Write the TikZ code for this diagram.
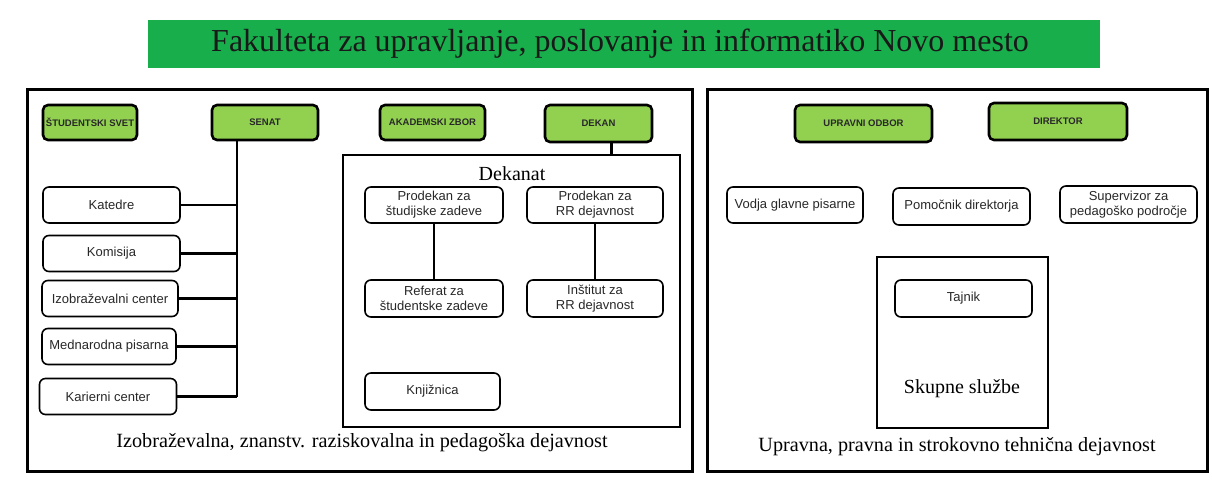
\documentclass[tikz,border=0pt]{standalone}
\usepackage{fontspec}
\setmainfont{Liberation Serif}
\setsansfont{Liberation Sans}
\newfontfamily\titlefont{Liberation Serif}
\definecolor{bannergreen}{RGB}{24,174,76}
\definecolor{lightgreen}{RGB}{146,208,80}
\definecolor{txtgray}{RGB}{40,40,40}
\begin{document}
\begin{tikzpicture}[x=1pt,y=-1pt,
  headbox/.style={draw=black,line width=2.6pt,rounded corners=5pt,fill=lightgreen,
     font=\sffamily\bfseries\fontsize{9.5}{11}\selectfont,text=txtgray,
     minimum height=35pt,inner sep=1pt},
  unitbox/.style={draw=black,line width=1.6pt,rounded corners=6pt,fill=white,
     font=\sffamily\fontsize{13}{15}\selectfont,text=txtgray,align=center,
     minimum width=136pt,minimum height=36pt,inner sep=1pt},
  framebox/.style={draw=black,line width=3pt},
  groupbox/.style={draw=black,line width=2pt},
  link/.style={draw=black,line width=2.5pt},
  caption/.style={font=\fontsize{20.2}{23}\selectfont}
]
\useasboundingbox (0,0) rectangle (1212,482);
\fill[white] (0,0) rectangle (1212,482);

% title banner
\node[fill=bannergreen,minimum width=952pt,minimum height=48pt,inner sep=0pt] (title) at (624,44) {};
\node[font=\titlefont\fontsize{32}{34}\selectfont,text=black!90] (titletext) at (620,44) {Fakulteta za upravljanje, poslovanje in informatiko Novo mesto};

% big frames
\node[framebox,minimum width=665pt,minimum height=382pt,inner sep=0pt] (left) at (359.5,280) {};
\node[framebox,minimum width=500pt,minimum height=382pt,inner sep=0pt] (right) at (957,280) {};

% left header nodes
\node[headbox,minimum width=94pt] (ss) at (90,122.5) {ŠTUDENTSKI SVET};
\node[headbox,minimum width=106pt] (senat) at (265,122.5) {SENAT};
\node[headbox,minimum width=105pt] (az) at (432.5,122.5) {AKADEMSKI ZBOR};
\node[headbox,minimum width=107pt,minimum height=37pt] (dekan) at (598.5,123.5) {DEKAN};

% left column units
\node[unitbox,minimum width=137pt] (kat) at (111.5,205) {Katedre};
\node[unitbox,minimum width=137pt] (kom) at (111.5,253.5) {Komisija};
\node[unitbox] (izo) at (110,298.5) {Izobraževalni center};
\node[unitbox,minimum width=134pt] (med) at (109,346.5) {Mednarodna pisarna};
\node[unitbox,minimum width=137pt] (kar) at (108,396.5) {Karierni center};

\coordinate (sbottom) at (237,396.5);
\draw[link] ([xshift=-28pt]senat.south) -- ([xshift=-28pt]senat.south |- sbottom);
\foreach \n in {kat,kom,izo,med,kar}{
  \draw[link] (\n.east) -- (\n.east -| sbottom);
}

% Dekanat
\node[groupbox,minimum width=337pt,minimum height=272pt,inner sep=0pt] (dekanat) at (511.5,291) {};
\node[font=\fontsize{20}{22}\selectfont] (dekanatlabel) at (512,174) {Dekanat};
\draw[link] ([xshift=13pt]dekan.south) -- ([xshift=13pt]dekan.south |- dekanat.north);

\node[unitbox,minimum width=138pt] (p1) at (434,205) {Prodekan za\\študijske zadeve};
\node[unitbox] (p2) at (595,205) {Prodekan za\\RR dejavnost};
\node[unitbox,minimum width=138pt,minimum height=37pt] (r1) at (434,298.5) {Referat za\\študentske zadeve};
\node[unitbox,minimum height=37pt] (i1) at (595,298.5) {Inštitut za\\RR dejavnost};
\node[unitbox,minimum width=135pt,minimum height=37pt] (knj) at (432.5,391.5) {Knjižnica};
\draw[link] (p1.south) -- (r1.north);
\draw[link] (p2.south) -- (i1.north);

\node[caption] (lcap) at (362,443) {Izobraževalna, znanstv. raziskovalna in pedagoška dejavnost};

% right side
\node[headbox,minimum width=137pt,minimum height=37pt] (uo) at (863.5,123.5) {UPRAVNI ODBOR};
\node[headbox,minimum width=138pt,minimum height=37pt] (dir) at (1058,121.5) {DIREKTOR};

\node[unitbox] (vodja) at (795,205) {Vodja glavne pisarne};
\node[unitbox,minimum width=137pt,minimum height=37pt] (pom) at (961.5,206.5) {Pomočnik direktorja};
\node[unitbox,minimum width=137pt,minimum height=37pt] (sup) at (1128.5,204.5) {Supervizor za\\pedagoško področje};

\node[groupbox,minimum width=171pt,minimum height=171pt,inner sep=0pt] (skupne) at (962.5,342.5) {};
\node[unitbox,minimum width=137pt,minimum height=37pt] (tajnik) at (963.5,298.5) {Tajnik};
\node[font=\fontsize{20}{22}\selectfont] (skupnelabel) at (962,389) {Skupne službe};

\node[caption] (rcap) at (957,447) {Upravna, pravna in strokovno tehnična dejavnost};
\end{tikzpicture}
\end{document}
